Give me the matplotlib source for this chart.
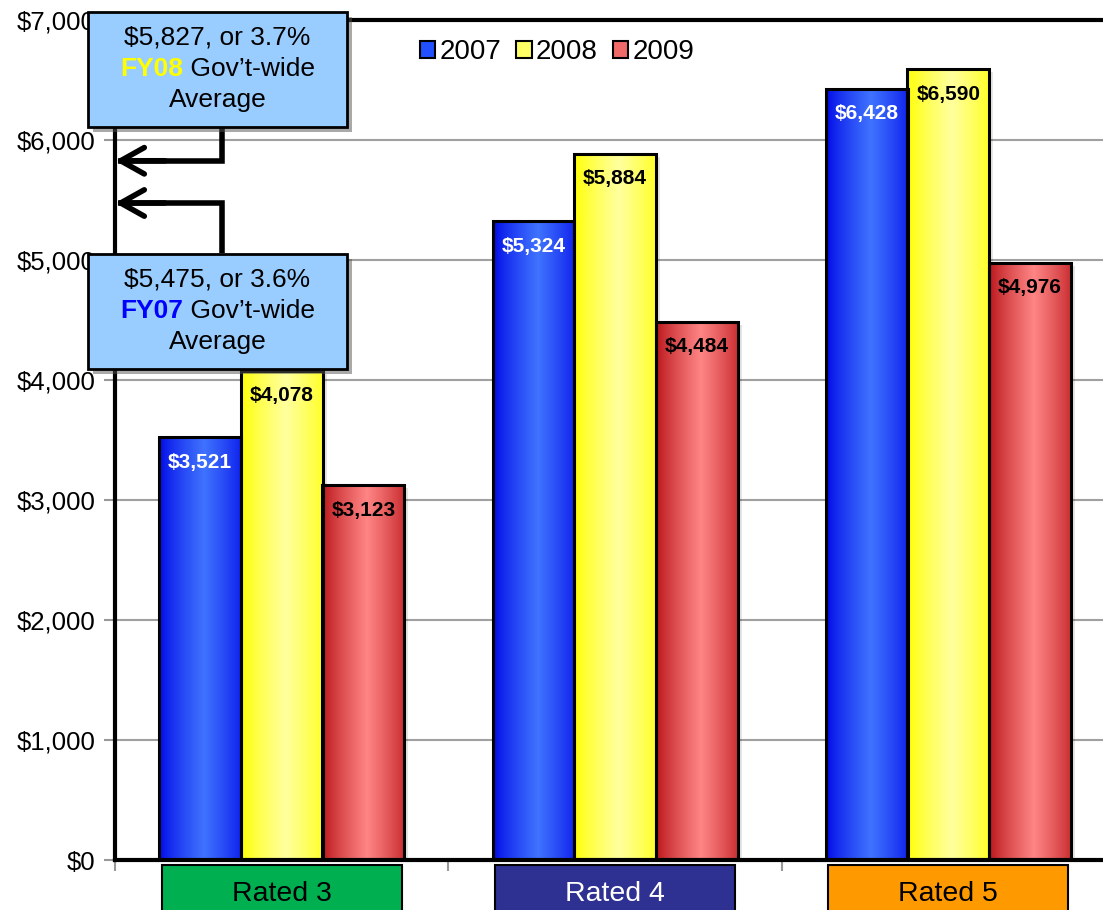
import numpy as np
import matplotlib
matplotlib.use("Agg")
import matplotlib.pyplot as plt
from matplotlib.patches import Rectangle, Patch
import matplotlib.transforms as mtransforms

plt.rcParams['font.family'] = ['Liberation Sans', 'DejaVu Sans']

# ---- data ----
categories = ["Rated 3", "Rated 4", "Rated 5"]
years = ["2007", "2008", "2009"]
values_2007 = [3521, 5324, 6428]
values_2008 = [4078, 5884, 6590]
values_2009 = [3123, 4484, 4976]
yticks = [0, 1000, 2000, 3000, 4000, 5000, 6000, 7000]
avg_fy07 = 5475
avg_fy08 = 5827
avg_fy07_pct = "3.6%"
avg_fy08_pct = "3.7%"

series = [values_2007, values_2008, values_2009]
# gradient stops: (edge colour, centre colour)
grad = [((0.0, 0.03, 0.9), (0.25, 0.45, 1.0)),
        ((1.0, 1.0, 0.0), (1.0, 1.0, 0.62)),
        ((0.72, 0.07, 0.09), (1.0, 0.52, 0.52))]
legend_cols = ["#2250ff", "#ffff66", "#f06a6a"]
label_cols = ["white", "black", "black"]
cat_face = ["#00b050", "#2e3192", "#ff9900"]
cat_text = ["black", "white", "black"]

W, H = 1103, 910
fig = plt.figure(figsize=(W / 100, H / 100), dpi=100)
ax = fig.add_axes([115 / W, 50 / H, 1000 / W, 840 / H])


def fx(px):
    return px / W


def fy(py):
    return 1 - py / H


bar_w = 0.245
x = np.arange(len(categories))
for i, vals in enumerate(series):
    edge, centre = np.array(grad[i][0]), np.array(grad[i][1])
    t = np.linspace(0, 1, 200)
    prof = np.clip(1 - np.abs(t - 0.55) / 0.55, 0, 1) ** 0.8
    img = edge[None, :] + (centre - edge)[None, :] * prof[:, None]
    img = img[None, :, :]
    for j, v in enumerate(vals):
        x0 = x[j] + (i - 1) * bar_w - bar_w / 2
        # soft shadow
        sh = Rectangle((x0, 0), bar_w, v, facecolor="black", alpha=0.10,
                       edgecolor="none", zorder=1.5,
                       transform=ax.transData + mtransforms.ScaledTranslation(
                           4 / 100, -3 / 100, fig.dpi_scale_trans))
        ax.add_patch(sh)
        rect = Rectangle((x0, 0), bar_w, v, facecolor="none",
                         edgecolor="black", lw=2.2, zorder=3)
        ax.add_patch(rect)
        im = ax.imshow(img, extent=[x0, x0 + bar_w, 0, v], aspect="auto",
                       zorder=2, interpolation="bilinear")
        im.set_clip_path(rect)
        ax.annotate(f"${v:,}", xy=(x[j] + (i - 1) * bar_w, v),
                    xytext=(0, -18), textcoords="offset points",
                    ha="center", va="center", fontsize=15,
                    fontweight="bold", color=label_cols[i], zorder=4)

ax.set_xlim(-0.5, 2.5)
ax.set_ylim(0, 7000)
ax.set_yticks(yticks)
ax.set_yticklabels([f"${v:,}" for v in yticks], fontsize=18.5)
ax.set_xticks([-0.5, 0.5, 1.5, 2.5])
ax.set_xticklabels([])
ax.tick_params(axis="y", length=8, width=1.5, color="#999999", pad=6)
ax.tick_params(axis="x", length=8, width=1.5, color="#999999")
ax.yaxis.grid(True, color="#a0a0a0", lw=1.5, zorder=0)
ax.set_axisbelow(True)
for s in ["left", "top", "bottom", "right"]:
    ax.spines[s].set_linewidth(3)
    ax.spines[s].set_color("black")

# legend
handles = [Patch(facecolor=legend_cols[i], edgecolor="black", lw=1.5)
           for i in range(3)]
fig.legend(handles, years, loc="center", bbox_to_anchor=(fx(557), fy(52)),
           ncol=3, frameon=False, fontsize=20, handlelength=0.55,
           handleheight=0.55, handletextpad=0.15, columnspacing=0.55)

# category boxes below the axis
blend_x = mtransforms.blended_transform_factory(ax.transData, ax.transAxes)
box_w = 0.72
for j, cat in enumerate(categories):
    ax.add_patch(Rectangle((x[j] - box_w / 2, -0.07), box_w, 0.064,
                           transform=blend_x, facecolor=cat_face[j],
                           edgecolor="black", lw=1.5, clip_on=False, zorder=5))
    ax.text(x[j], -0.04, cat, transform=blend_x, ha="center", va="center",
            fontsize=20.5, color=cat_text[j], zorder=6, clip_on=False)

# average callouts with elbow arrows
blend_y = mtransforms.blended_transform_factory(ax.transAxes, ax.transData)
elbow_x = 0.107
for avg, start in [(avg_fy08, 6108), (avg_fy07, 5058)]:
    ax.plot([elbow_x, elbow_x, 0.003], [start, avg, avg], transform=blend_y,
            color="black", lw=4, solid_capstyle="butt", solid_joinstyle="miter",
            clip_on=False, zorder=6)
    ax.annotate("", xy=(0.0, avg), xytext=(0.05, avg), xycoords=blend_y,
                textcoords=blend_y,
                arrowprops=dict(arrowstyle="->,head_length=1.7,head_width=0.95",
                                lw=4, color="black", shrinkA=0, shrinkB=0),
                zorder=7, annotation_clip=False)


def callout(top_px, amount, pct, tag, tag_color):
    x0, x1 = 88, 347
    y0, y1 = top_px, top_px + 115
    shadow = Rectangle((fx(x0 + 5), fy(y1 + 5)), fx(x1 - x0), (y1 - y0) / H,
                       transform=fig.transFigure, facecolor="#555555",
                       alpha=0.5, edgecolor="none", zorder=8)
    fig.add_artist(shadow)
    box = Rectangle((fx(x0), fy(y1)), fx(x1 - x0), (y1 - y0) / H,
                    transform=fig.transFigure, facecolor="#99ccff",
                    edgecolor="black", lw=2, zorder=9)
    fig.add_artist(box)
    cx = (x0 + x1) / 2
    fig.text(fx(cx), fy(top_px + 25), f"${amount:,}, or {pct}", ha="center",
             va="center", fontsize=19, zorder=10)
    fig.text(fx(cx), fy(top_px + 88), "Average", ha="center", va="center",
             fontsize=19, zorder=10)
    t1 = fig.text(0, fy(top_px + 57), tag, ha="left", va="center",
                  fontsize=19, fontweight="bold", color=tag_color, zorder=10)
    t2 = fig.text(0, fy(top_px + 57), " Gov\u2019t-wide", ha="left",
                  va="center", fontsize=19, zorder=10)
    return t1, t2, cx


parts = [callout(12, avg_fy08, avg_fy08_pct, "FY08", "#ffff00"),
         callout(254, avg_fy07, avg_fy07_pct, "FY07", "#0000ff")]

fig.canvas.draw()
r = fig.canvas.get_renderer()
for t1, t2, cx in parts:
    w1 = t1.get_window_extent(r).width
    w2 = t2.get_window_extent(r).width
    left = cx - (w1 + w2) / 2
    t1.set_x(fx(left))
    t2.set_x(fx(left + w1))

fig.savefig("out.png", dpi=100)
